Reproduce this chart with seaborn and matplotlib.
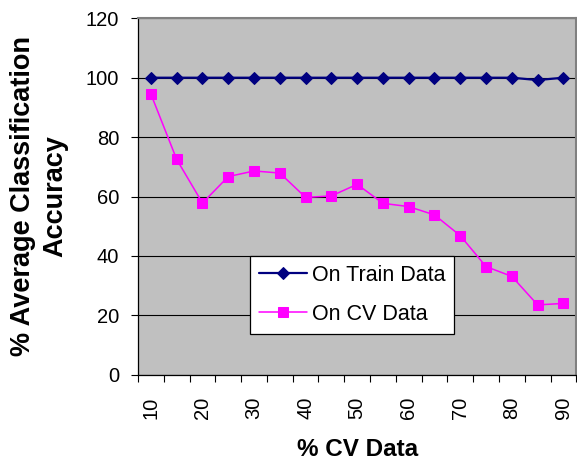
import numpy as np
import pandas as pd
import matplotlib
matplotlib.use("Agg")
import matplotlib.pyplot as plt
import seaborn as sns

# % of data held out for cross-validation (one category per 5 %)
cv_pct = [10, 15, 20, 25, 30, 35, 40, 45, 50, 55, 60, 65, 70, 75, 80, 85, 90]
train_acc = [100, 100, 100, 100, 100, 100, 100, 100, 100, 100, 100, 100, 100, 100, 100, 99.2, 100]
cv_acc = [94.5, 72.5, 57.8, 66.7, 68.6, 67.9, 59.7, 60.2, 64.1, 57.7, 56.6, 53.8, 46.8, 36.4, 33.1, 23.5, 24.0]
label_pct = [10, 20, 30, 40, 50, 60, 70, 80, 90]
y_ticks = [0, 20, 40, 60, 80, 100, 120]

sns.set_style("white")
plt.rcParams["font.family"] = ["Liberation Sans", "DejaVu Sans"]
plt.rcParams.update({"text.color": "black", "axes.labelcolor": "black",
                     "xtick.color": "black", "ytick.color": "black"})

df = pd.DataFrame({"cv": cv_pct, "train": train_acc, "cvacc": cv_acc})

fig = plt.figure(figsize=(5.77, 4.68), dpi=100)
W, H = 577, 468
ax = fig.add_axes([138 / W, 1 - 374.7 / H, (576.3 - 138) / W, (374.7 - 18.3) / H])
ax.set_facecolor("#C0C0C0")

sns.lineplot(data=df, x="cv", y="train", ax=ax, color="#000080", lw=1.6,
             marker="D", markersize=5.8, markeredgecolor="#000080",
             label="On Train Data", zorder=4)
sns.lineplot(data=df, x="cv", y="cvacc", ax=ax, color="#FF00FF", lw=1.1,
             marker="s", markersize=7.2, markeredgecolor="#FF00FF",
             label="On CV Data", zorder=3)

# category boundaries for the tick marks
x = np.asarray(cv_pct, dtype=float)
half = (x[1] - x[0]) / 2
edges = np.concatenate([[x[0] - half], (x[:-1] + x[1:]) / 2, [x[-1] + half]])
ax.set_xlim(edges[0], edges[-1])
ax.set_ylim(0, 120)

ax.set_xticks(edges)
ax.set_xticklabels([])
ax.set_xticks(label_pct, minor=True)
ax.set_xticklabels([str(v) for v in label_pct], minor=True, rotation=90, fontsize=14.5)
ax.tick_params(axis="x", which="major", direction="out", length=5, width=0.8,
               color="black", bottom=True)
ax.tick_params(axis="x", which="minor", length=0, pad=16, bottom=True)

ax.set_yticks(y_ticks)
ax.set_yticklabels([str(v) for v in y_ticks], fontsize=14.5)
ax.tick_params(axis="y", direction="out", length=5, width=0.8, color="black",
               pad=8.5, left=True)

ax.yaxis.grid(True, color="black", lw=0.8)
ax.xaxis.grid(False)
ax.set_axisbelow(True)

for side in ("left", "bottom"):
    ax.spines[side].set_color("black")
    ax.spines[side].set_linewidth(0.9)
for side in ("top", "right"):
    ax.spines[side].set_color("#808080")
    ax.spines[side].set_linewidth(1.5)

ax.set_xlabel("% CV Data", fontsize=17.5, fontweight="bold", va="center")
ax.xaxis.set_label_coords(0.5, (374.7 - 450) / 356.4)
ax.set_ylabel("% Average Classification\nAccuracy", fontsize=19.5,
              fontweight="bold", va="center", ha="center", linespacing=1.3)
ax.yaxis.set_label_coords((39 - 138) / 438.3, 0.5)

leg = ax.legend(loc="upper left", bbox_to_anchor=(0.2554, 0.333), borderaxespad=0,
                frameon=True, fancybox=False, edgecolor="black", framealpha=1,
                fontsize=15.5, handlelength=2.25, handletextpad=0.25,
                labelspacing=0.85, borderpad=0.4)
leg.get_frame().set_linewidth(0.9)

fig.savefig("out.png", dpi=100, facecolor="white")
